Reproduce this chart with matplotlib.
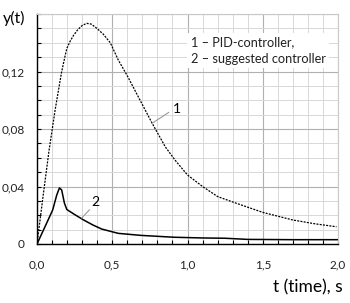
import numpy as np
import matplotlib.pyplot as plt
from matplotlib.ticker import MultipleLocator, FuncFormatter

# Curve 1 - PID-controller (dashed)
t_pid = [0.0, 0.04, 0.08, 0.12, 0.164, 0.187, 0.198, 0.22, 0.242, 0.27, 0.30, 0.33,
         0.36, 0.398, 0.44, 0.487, 0.54, 0.60, 0.68, 0.765, 0.853, 0.92, 1.0,
         1.1, 1.2, 1.32, 1.5, 1.7, 1.85, 1.99]
y_pid = [0.0, 0.033, 0.065, 0.093, 0.12, 0.131, 0.136, 0.141, 0.145, 0.149, 0.152, 0.1535,
         0.1530, 0.150, 0.146, 0.140, 0.128, 0.117, 0.101, 0.084, 0.0675, 0.058, 0.048,
         0.040, 0.033, 0.0285, 0.022, 0.0167, 0.014, 0.012]

# Curve 2 - suggested controller (solid)
t_sug = [0.0, 0.053, 0.104, 0.131, 0.149, 0.164, 0.182, 0.198, 0.25, 0.31, 0.37,
         0.43, 0.54, 0.69, 0.91, 1.1, 1.25, 1.4, 1.7, 2.0]
y_sug = [0.0, 0.012, 0.0236, 0.034, 0.039, 0.0376, 0.0285, 0.024, 0.0205, 0.0167, 0.0133,
         0.0104, 0.0074, 0.006, 0.0047, 0.0042, 0.004, 0.0032, 0.003, 0.003]

legend_lines = ["1 \u2013 PID-controller,", "2 \u2013 suggested controller"]


def y_fmt(v, p):
    if abs(v) < 1e-9:
        return "0"
    if v > 0.15:
        return ""
    return ("%.2f" % v).replace(".", ",")


plt.rcParams['font.family'] = ['Lato', 'DejaVu Sans']

fig = plt.figure(figsize=(3.5, 3.03), dpi=100)
ax = fig.add_axes([37 / 350, 1 - 244 / 303, (338 - 37) / 350, (244 - 14) / 303])

ax.set_xlim(0, 2.0)
ax.set_ylim(0, 0.16)

ax.xaxis.set_major_locator(MultipleLocator(0.5))
ax.xaxis.set_minor_locator(MultipleLocator(0.1))
ax.yaxis.set_major_locator(MultipleLocator(0.04))
ax.yaxis.set_minor_locator(MultipleLocator(0.01))

ax.grid(which="major", color="#b0b0b0", lw=0.8)
ax.grid(which="minor", color="#d8d8d8", lw=0.7)
ax.set_axisbelow(True)

ax.xaxis.set_major_formatter(FuncFormatter(lambda v, p: ("%.1f" % v).replace(".", ",")))
ax.yaxis.set_major_formatter(FuncFormatter(y_fmt))

ax.tick_params(which="both", direction="in", length=3, width=0.8, labelsize=8.5,
               color="black", labelcolor="#222222")
ax.tick_params(axis="x", which="major", pad=11)
ax.tick_params(axis="y", which="major", pad=9)

ax.spines["top"].set_color("#c8c8c8")
ax.spines["right"].set_color("#c8c8c8")
ax.spines["left"].set_linewidth(1.0)
ax.spines["bottom"].set_linewidth(1.0)

ax.plot(t_pid, y_pid, color="black", lw=0.9, ls=(0, (1.6, 1.0)))
ax.plot(t_sug, y_sug, color="black", lw=1.1)

# Curve labels with leader lines
ax.plot([0.765, 0.875], [0.084, 0.0915], color="#9a9a9a", lw=0.8)
ax.text(0.93, 0.094, "1", fontsize=10, ha="center", va="center")
ax.plot([0.297, 0.348], [0.0181, 0.0237], color="#9a9a9a", lw=0.8)
ax.text(0.39, 0.0295, "2", fontsize=10, ha="center", va="center")

# Legend text box
ax.text(1.02, 0.1345, legend_lines[0] + "\n" + legend_lines[1], fontsize=9.2,
        ha="left", va="center", linespacing=1.45, color="#222222",
        bbox=dict(facecolor="white", edgecolor="none", pad=2.5))

fig.text(3 / 350, 1 - 18 / 303, "y(t)", fontsize=11.5, ha="left", va="center")
fig.text(343 / 350, 1 - 287 / 303, "t (time), s", fontsize=12.5, ha="right", va="center")

fig.savefig("out.png", dpi=100)
